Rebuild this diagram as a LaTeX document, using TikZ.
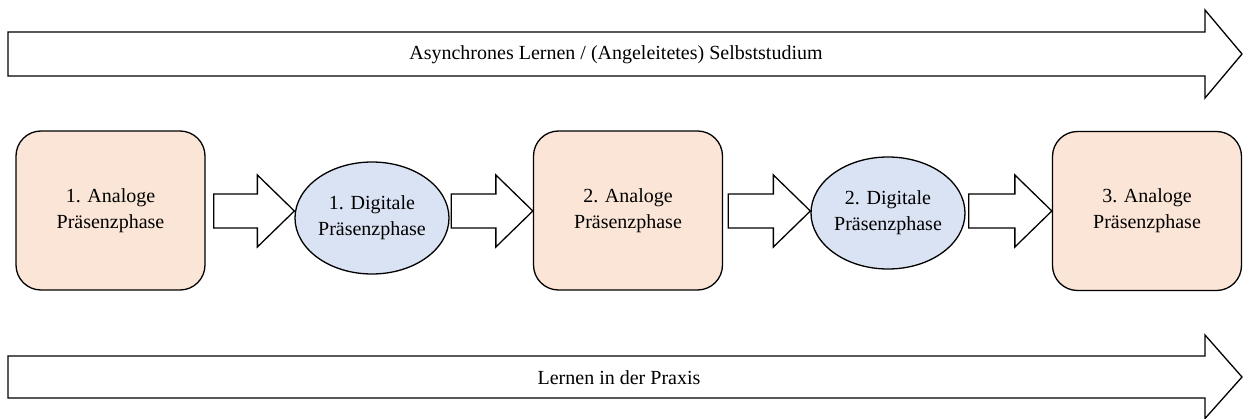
\documentclass[tikz,border=0pt]{standalone}
\usepackage{fontspec}
\setmainfont{Liberation Serif}
\usetikzlibrary{calc,shapes.geometric}

\definecolor{analogfill}{HTML}{FBE5D6}
\definecolor{digitalfill}{HTML}{DAE3F3}

\tikzset{
  outline/.style={draw=black, line width=1.3pt, line join=miter},
  analog/.style={outline, fill=analogfill, rounded corners=25pt,
    minimum width=189pt, minimum height=159pt, align=center,
    font=\fontsize{20}{26}\selectfont},
  digital/.style={outline, fill=digitalfill, ellipse, inner sep=0pt,
    minimum width=154pt, minimum height=112pt, align=center,
    font=\fontsize{20}{26}\selectfont},
  blockarrow/.style={outline, fill=white},
  bandtext/.style={font=\fontsize{20}{24}\selectfont, inner sep=0pt},
}

% block arrow from the east side of #1 to the west side of #2, body starting #3 to the right
\newcommand\phasearrow[3]{%
  \draw[blockarrow] let \p1=($(#1.east)+(#3,0)$), \p2=(#2.west), \p3=(row) in
    (\x1,\y3+17pt) -- (\x2-37pt,\y3+17pt) -- (\x2-37pt,\y3+36pt) -- (\x2,\y3)
    -- (\x2-37pt,\y3-36pt) -- (\x2-37pt,\y3-17pt) -- (\x1,\y3-17pt) -- cycle;}

\begin{document}
\begin{tikzpicture}[x=1pt, y=-1pt]
  \useasboundingbox (0,0) rectangle (1244,419);

  % upper band arrow
  \coordinate (topstart) at (8,54);
  \coordinate (toptip) at (1242,54);
  \draw[blockarrow] (topstart) ++(0,-22) -- (1205,32) -- (1205,10) -- (toptip)
    -- (1205,98) -- (1205,76) -- (8,76) -- cycle;
  \node[bandtext] (toplabel) at (616,55) {Asynchrones Lernen / (Angeleitetes) Selbststudium};

  % lower band arrow
  \coordinate (botstart) at (8,377);
  \coordinate (bottip) at (1242,377);
  \draw[blockarrow] (botstart) ++(0,-21) -- (1205,356) -- (1205,335) -- (bottip)
    -- (1205,418.5) -- (1205,398) -- (8,398) -- cycle;
  \node[bandtext] (botlabel) at (619,378) {Lernen in der Praxis};

  % phase row
  \coordinate (row) at (0,211);
  \node[analog]  (a1) at (110.5,210.5) {1. Analoge\\Präsenzphase};
  \node[digital] (d1) at (372,218)     {1. Digitale\\Präsenzphase};
  \node[analog]  (a2) at (628,210.5)   {2. Analoge\\Präsenzphase};
  \node[digital] (d2) at (888,213)     {2. Digitale\\Präsenzphase};
  \node[analog]  (a3) at (1147,211)    {3. Analoge\\Präsenzphase};

  \phasearrow{a1}{d1}{8pt}
  \phasearrow{d1}{a2}{1.5pt}
  \phasearrow{a2}{d2}{5pt}
  \phasearrow{d2}{a3}{3pt}
\end{tikzpicture}
\end{document}
